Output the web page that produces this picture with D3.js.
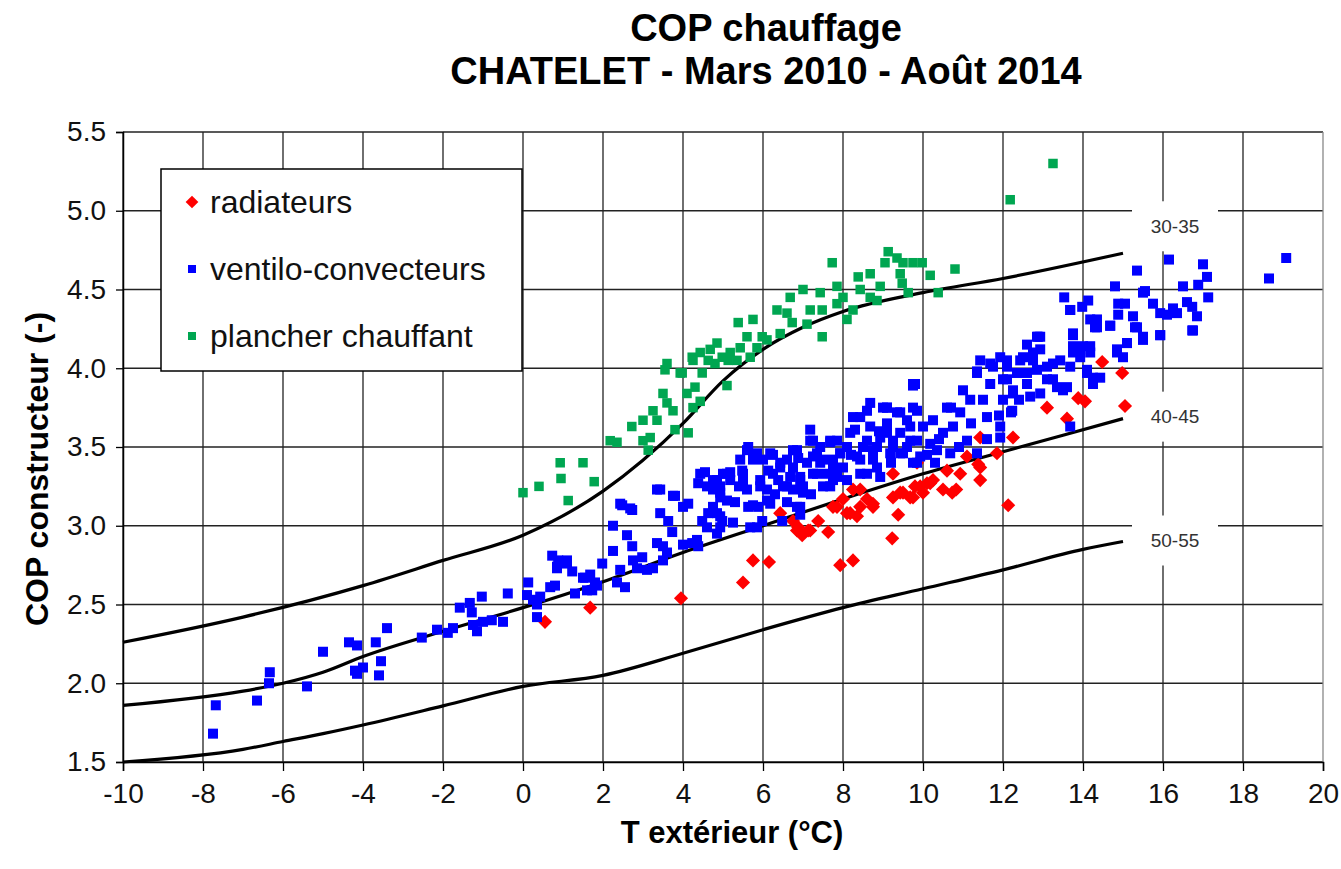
<!DOCTYPE html>
<html>
<head>
<meta charset="utf-8">
<script src="https://cdn.jsdelivr.net/npm/d3@7"></script>
<style>
  body { margin: 0; background: #fff; }
  text { font-family: "Liberation Sans", Arial, sans-serif; }
</style>
</head>
<body>
<script>
// ---- data ----
var xTicks = [-10, -8, -6, -4, -2, 0, 2, 4, 6, 8, 10, 12, 14, 16, 18, 20];
var yTicks = [1.5, 2.0, 2.5, 3.0, 3.5, 4.0, 4.5, 5.0, 5.5];

// courbes constructeur (régime d'eau)
var curveNames = ["30-35", "40-45", "50-55"];
var c3035 = [[-10,2.26],[-7,2.42],[-4,2.62],[-2,2.78],[0,2.94],[2,3.22],[4,3.65],[5,3.92],[6,4.12],[7,4.26],[8,4.36],[10,4.48],[12,4.57],[15,4.73]];
var c4045 = [[-10,1.86],[-7,1.95],[-6,2.0],[-5,2.07],[-4,2.17],[-2,2.33],[0,2.48],[2,2.645],[4,2.83],[6,3.0],[8,3.17],[10,3.33],[12,3.47],[15,3.68]];
var c5055 = [[-10,1.5],[-7,1.58],[-6,1.63],[-5,1.68],[-4,1.735],[-2,1.856],[0,1.98],[2,2.05],[4,2.19],[6,2.34],[8,2.48],[10,2.6],[12,2.72],[14,2.85],[15,2.9]];

var radiateurs = [[0.55,2.39],[1.68,2.48],[3.95,2.54],[5.5,2.64],[5.75,2.78],[6.15,2.77],[6.43,3.08],[6.88,2.99],[6.98,2.94],[7.13,2.97],[6.75,3.03],[7.38,3.03],[7.63,2.96],[7.75,3.12],[7.93,2.75],[8.25,2.78],[8.1,3.08],[8.25,3.23],[8.43,3.12],[8.35,3.06],[8.6,3.17],[8.75,3.12],[9.23,2.92],[9.38,3.07],[9.25,3.33],[9.5,3.21],[9.8,3.25],[9.85,3.4],[6.85,2.97],[7.18,2.97],[7.85,3.12],[8.0,3.17],[8.18,3.08],[8.43,3.23],[8.75,3.14],[9.25,3.18],[9.75,3.18],[9.93,3.25],[10.1,3.27],[10.25,3.29],[10.6,3.35],[10.83,3.23],[10.93,3.33],[11.1,3.44],[11.38,3.39],[11.43,3.29],[11.43,3.56],[11.85,3.46],[12.25,3.56],[12.13,3.13],[13.1,3.75],[13.6,3.68],[13.88,3.81],[14.05,3.79],[9.43,3.21],[9.68,3.18],[10.0,3.21],[10.18,3.27],[10.5,3.23],[10.73,3.21],[11.43,3.37],[14.48,4.04],[14.98,3.97],[15.05,3.76]];

var ventilo = [[-7.75,1.68],[-7.68,1.86],[-6.65,1.89],[-6.35,2.0],[-6.33,2.07],[-5.4,1.98],[-5.0,2.2],[-4.35,2.26],[-4.15,2.24],[-4.2,2.08],[-4.15,2.06],[-4.0,2.1],[-3.68,2.26],[-3.55,2.14],[-3.6,2.05],[-3.4,2.35],[-2.53,2.29],[-2.15,2.34],[-1.88,2.32],[-1.75,2.35],[-1.58,2.48],[-1.33,2.51],[-1.03,2.55],[-1.28,2.45],[-1.25,2.37],[-1.15,2.33],[-1.0,2.39],[-0.78,2.4],[-0.5,2.39],[-0.38,2.57],[0.13,2.64],[0.1,2.56],[0.25,2.53],[0.43,2.55],[0.35,2.5],[0.35,2.42],[0.68,2.61],[0.8,2.62],[0.85,2.74],[1.1,2.76],[1.23,2.71],[1.3,2.57],[1.5,2.67],[1.68,2.69],[1.73,2.59],[1.85,2.62],
  [0.73,2.81],[0.88,2.78],[1.1,2.78],[0.85,2.73],[1.55,2.67],[1.8,2.64],[1.6,2.59],[1.98,2.76],[2.25,3.0],[2.25,2.84],[2.43,2.72],[2.55,2.61],[2.35,2.64],[2.48,3.13],[2.73,3.1],[2.6,2.94],[2.73,2.87],[2.75,2.78],[2.98,2.8],[2.85,2.73],[3.1,2.72],[3.25,2.73],[3.35,2.89],[3.5,2.87],[3.6,2.83],[3.5,2.78],[3.43,3.23],[3.43,3.08],[3.63,3.03],[3.73,2.96],[3.8,3.19],[4.0,2.88],[4.23,2.89],[4.35,2.91],[4.38,2.87],[4.0,3.12],[4.13,3.14],[4.38,3.27],[4.55,3.34],[4.48,3.03],[4.6,2.99],[4.63,3.08],[4.75,3.12],[4.85,3.08],[4.93,2.99],[4.98,3.03],[4.85,2.95],[4.75,3.23],[4.85,3.29],[5.0,3.33],[5.18,3.34],[4.93,3.18],[5.1,3.16],[5.25,3.02],
  [5.43,3.42],[5.48,3.35],[5.5,3.29],[5.6,3.23],[5.63,3.5],[5.63,3.12],[5.75,3.13],[5.88,3.12],[5.68,2.99],[5.85,2.99],[5.98,3.03],[5.85,3.46],[6.0,3.42],[6.13,3.35],[5.93,3.29],[6.1,3.23],[6.18,3.14],[6.25,3.45],[6.43,3.4],[6.6,3.42],[6.75,3.48],[6.88,3.43],[6.38,3.29],[6.5,3.25],[6.68,3.31],[6.75,3.23],[6.93,3.29],[6.93,3.12],[7.0,3.25],[6.85,3.12],[6.93,3.07],[6.48,3.03],[7.18,3.61],[7.25,3.54],[7.35,3.46],[7.43,3.4],[7.6,3.33],[7.25,3.33],[7.68,3.53],[7.85,3.54],[7.93,3.46],[7.75,3.42],[8.0,3.37],[8.1,3.29],[7.75,3.29],[7.68,3.25],
  [8.3,3.61],[8.43,3.69],[8.68,3.78],[8.6,3.54],[8.85,3.5],[8.75,3.42],[8.43,3.42],[8.6,3.33],[8.93,3.31],[9.1,3.75],[9.1,3.59],[9.25,3.5],[9.43,3.46],[9.43,3.72],[9.68,3.63],[9.68,3.54],[9.85,3.73],[9.85,3.4],[9.75,3.89],[3.35,3.23],[3.75,3.19],[2.43,3.14],[2.68,3.11],[4.43,3.33],[4.75,3.29],[4.93,3.25],[5.1,3.33],[5.6,3.48],
  [4.6,3.25],[4.93,3.21],[5.18,3.29],[4.93,3.06],[5.5,3.33],[5.75,3.42],[5.93,3.25],[6.1,3.16],[6.18,3.46],[6.25,3.33],[6.43,3.37],[6.6,3.25],[6.75,3.37],[6.85,3.48],[6.93,3.31],[7.0,3.21],[7.18,3.54],[7.25,3.44],[7.35,3.33],[7.43,3.5],[7.5,3.42],[7.68,3.54],[7.75,3.37],[7.85,3.31],[7.93,3.46],[8.1,3.5],[8.18,3.59],[8.25,3.69],[8.35,3.44],[8.43,3.33],[8.6,3.73],[8.68,3.63],[8.75,3.48],[8.85,3.37],[8.93,3.56],[9.0,3.75],[9.1,3.65],[9.18,3.46],[9.25,3.54],[9.35,3.72],[9.43,3.59],[9.5,3.46],[9.6,3.67],[9.75,3.75],[9.75,3.9],[9.85,3.54],[9.93,3.44],[10.0,3.63],[10.18,3.52],[10.25,3.67],[10.35,3.48],[10.5,3.59],[10.6,3.75],[10.68,3.46],[10.75,3.63],[10.93,3.72],[11.0,3.86],[11.1,3.54],[11.18,3.8],[11.35,3.97],[11.43,4.05],[11.5,3.8],[11.6,3.69],[11.68,3.9],[11.75,4.01],[11.93,3.63],[12.0,3.8],[12.0,3.93],[12.1,4.05],[12.2,3.72],[12.25,3.84],[12.35,3.97],[12.5,4.07],[12.6,3.9],[12.75,4.05],[12.85,4.2],[12.93,3.84],[13.1,4.01],[13.25,3.93],[13.43,4.05],[13.6,3.88],[13.68,4.37],[13.75,4.22],[13.93,4.12],[14.1,3.97],[14.25,3.9],[14.35,4.31],[13.68,3.63],
  [9.1,3.75],[9.8,3.9],[9.75,3.4],[11.35,3.46],[11.93,3.56],[12.23,3.73],[11.35,3.98],[11.68,4.03],[11.93,4.07],[12.1,4.01],[12.1,3.93],[12.25,3.86],[12.43,4.05],[12.6,3.97],[12.68,3.82],[12.75,4.1],[12.93,4.12],[12.85,3.99],[13.1,3.93],[13.25,4.03],[13.35,3.88],[13.5,3.86],[13.68,4.01],[13.75,4.14],[13.93,4.07],[14.1,3.99],[14.25,3.94],[14.43,3.94],[14.18,4.14],[14.35,4.26],[14.68,4.27],[14.85,4.1],[15.0,4.07],[15.1,4.16],[15.3,4.26],[15.5,4.18],[15.93,4.21],[16.73,4.24],[12.88,4.2],[13.75,4.21],
  [15.35,4.62],[16.15,4.69],[17.0,4.66],[17.1,4.58],[16.88,4.53],[16.5,4.52],[14.8,4.52],[15.55,4.49],[13.53,4.45],[13.68,4.37],[14.13,4.43],[13.98,4.39],[14.88,4.41],[15.05,4.41],[14.18,4.31],[14.3,4.26],[13.75,4.22],[14.68,4.27],[14.88,4.34],[15.25,4.33],[15.35,4.26],[15.5,4.2],[15.5,4.48],[15.75,4.41],[15.93,4.35],[16.1,4.34],[16.25,4.38],[16.35,4.35],[16.6,4.42],[16.73,4.39],[16.85,4.33],[17.13,4.45],[16.75,4.24],[15.93,4.21],[13.75,4.1],[14.0,4.14],[14.18,4.1],[14.85,4.12],[15.1,4.16],[18.65,4.57],[19.08,4.7],[12.93,4.2],
  [8.5,3.5],[8.9,3.6],[9.2,3.4],[9.6,3.5],[10.1,3.45],[10.4,3.55],[10.3,3.4],[10.9,3.5],[10.7,3.75],[11.2,3.65],[8.2,3.45],[7.1,3.4],[6.3,3.2],[5.3,3.15],[5.4,3.25],[6.6,3.15],[7.2,3.2],[7.5,3.25],[11.6,3.55],[11.9,3.7],[12.4,3.8],[12.6,4.15]];

var plancher = [[0,3.21],[0.4,3.25],[0.93,3.4],[0.95,3.3],[1.5,3.4],[1.78,3.28],[1.13,3.16],[2.18,3.54],[2.35,3.53],[2.72,3.63],[3.0,3.67],[3.0,3.54],[3.18,3.56],[3.13,3.48],[3.25,3.73],[3.35,3.67],[3.5,3.84],[3.6,3.78],[3.75,3.73],[3.8,3.61],[4.13,3.59],[3.6,4.03],[3.98,3.97],[4.1,3.84],[4.25,3.75],[4.3,3.88],[4.43,3.79],[4.23,4.07],[4.43,4.1],[4.48,3.97],[4.68,4.12],[4.85,4.16],[4.8,4.03],[5.1,3.89],[5.13,4.05],[5.38,4.29],[5.43,4.13],[5.6,4.2],[5.75,4.31],[5.68,4.07],[5.85,4.13],[3.55,3.99],[3.93,3.97],[4.25,4.05],[4.63,4.05],[4.98,4.07],[5.18,4.1],[5.35,4.05],[5.98,4.2],[6.1,4.18],[6.35,4.37],[6.43,4.22],[6.6,4.35],[6.68,4.45],[6.73,4.29],[7.0,4.5],[7.1,4.28],[7.18,4.37],[7.43,4.48],[7.48,4.2],[7.48,4.37],[7.73,4.67],[7.85,4.52],[7.85,4.41],[8.0,4.45],[8.1,4.31],[8.25,4.37],[8.38,4.58],[8.43,4.5],[8.68,4.6],[8.68,4.45],[8.93,4.52],[8.85,4.43],[9.05,4.67],[9.13,4.74],[9.35,4.7],[9.43,4.6],[9.5,4.67],[9.48,4.54],[9.63,4.48],[9.75,4.67],[9.98,4.67],[10.18,4.59],[10.38,4.48],[10.8,4.63],[12.18,5.07],[13.25,5.3]];

var legendItems = ["radiateurs", "ventilo-convecteurs", "plancher chauffant"];
var colors = {red: "#ff0000", blue: "#0000ff", green: "#00a651"};

// ---- layout ----
var W = 1341, H = 869;
var margin = {top: 132, right: 18, bottom: 107, left: 123};
var width = W - margin.left - margin.right;
var height = H - margin.top - margin.bottom;

var x = d3.scaleLinear().domain([-10, 20]).range([0, width]);
var y = d3.scaleLinear().domain([1.5, 5.5]).range([height, 0]);

var svg = d3.select("body").append("svg")
    .attr("width", W)
    .attr("height", H)
    .style("background", "#fff");

var g = svg.append("g")
    .attr("transform", "translate(" + margin.left + "," + margin.top + ")");

// grid
g.append("g").selectAll("line").data(yTicks).enter().append("line")
    .attr("x1", 0).attr("x2", width)
    .attr("y1", function(d) { return y(d); }).attr("y2", function(d) { return y(d); })
    .attr("stroke", "#222").attr("stroke-width", 1.3);
g.append("g").selectAll("line").data(xTicks).enter().append("line")
    .attr("y1", 0).attr("y2", height)
    .attr("x1", function(d) { return x(d); }).attr("x2", function(d) { return x(d); })
    .attr("stroke", function(d) { return d === 20 ? "#888" : "#222"; })
    .attr("stroke-width", 1.3);

// axes
var xAxis = d3.axisBottom(x).tickValues(xTicks).tickSize(9).tickPadding(12).tickFormat(d3.format("d"));
var yAxis = d3.axisLeft(y).tickValues(yTicks).tickSize(7).tickPadding(10).tickFormat(d3.format(".1f"));

g.append("g")
    .attr("transform", "translate(0," + height + ")")
    .call(xAxis)
    .call(function(s) {
      s.select(".domain").attr("stroke", "#000").attr("stroke-width", 1.5);
      s.selectAll(".tick line").attr("stroke", "#000").attr("stroke-width", 1.3);
      s.selectAll("text").attr("font-size", 28).attr("fill", "#111")
        .attr("font-family", "Liberation Sans, Arial, sans-serif")
        .text(function(d) { return d < 0 ? "-" + Math.abs(d) : d; });
    });

g.append("g")
    .call(yAxis)
    .call(function(s) {
      s.select(".domain").attr("stroke", "#000").attr("stroke-width", 1.5);
      s.selectAll(".tick line").attr("stroke", "#000").attr("stroke-width", 1.3);
      s.selectAll("text").attr("font-size", 28).attr("fill", "#111")
        .attr("font-family", "Liberation Sans, Arial, sans-serif");
    });

// courbes
var line = d3.line()
    .x(function(d) { return x(d[0]); })
    .y(function(d) { return y(d[1]); })
    .curve(d3.curveMonotoneX);

var curves = [c3035, c4045, c5055];
g.append("g").selectAll("path").data(curves).enter().append("path")
    .attr("d", line)
    .attr("fill", "none")
    .attr("stroke", "#000")
    .attr("stroke-width", 3.2);

// étiquettes des courbes
var labelDy = [-27, -2, -1];
curves.forEach(function(c, i) {
  var last = c[c.length - 1];
  var cx = x(last[0]) + 52, cy = y(last[1]) + labelDy[i];
  g.append("rect")
      .attr("x", cx - 43).attr("y", cy - 25)
      .attr("width", 86).attr("height", 50)
      .attr("fill", "#fff");
  g.append("text")
      .attr("x", cx).attr("y", cy)
      .attr("dy", "0.35em")
      .attr("text-anchor", "middle")
      .attr("font-family", "Lato, 'Open Sans', sans-serif")
      .attr("font-size", 19)
      .attr("fill", "#333")
      .text(curveNames[i]);
});

// points
function diamond(sel, data, size, color) {
  sel.selectAll("rect").data(data).enter().append("rect")
      .attr("x", -size / 2).attr("y", -size / 2)
      .attr("width", size).attr("height", size)
      .attr("transform", function(d) { return "translate(" + x(d[0]) + "," + y(d[1]) + ") rotate(45)"; })
      .attr("fill", color);
}
function squares(sel, data, size, color) {
  sel.selectAll("rect").data(data).enter().append("rect")
      .attr("x", function(d) { return x(d[0]) - size / 2; })
      .attr("y", function(d) { return y(d[1]) - size / 2; })
      .attr("width", size).attr("height", size)
      .attr("fill", color);
}

diamond(g.append("g"), radiateurs, 10, colors.red);
squares(g.append("g"), ventilo, 10, colors.blue);
squares(g.append("g"), plancher, 9.5, colors.green);

// légende
var leg = svg.append("g");
leg.append("rect")
    .attr("x", 161).attr("y", 169)
    .attr("width", 361).attr("height", 202)
    .attr("fill", "#fff")
    .attr("stroke", "#000")
    .attr("stroke-width", 1.5);

var legY = [202, 269, 336];
leg.append("rect")
    .attr("x", -4.5).attr("y", -4.5).attr("width", 9).attr("height", 9)
    .attr("transform", "translate(192," + legY[0] + ") rotate(45)")
    .attr("fill", colors.red);
leg.append("rect")
    .attr("x", 188).attr("y", legY[1] - 4).attr("width", 8).attr("height", 8)
    .attr("fill", colors.blue);
leg.append("rect")
    .attr("x", 188).attr("y", legY[2] - 4).attr("width", 8).attr("height", 8)
    .attr("fill", colors.green);

leg.selectAll("text").data(legendItems).enter().append("text")
    .attr("x", 210)
    .attr("y", function(d, i) { return legY[i]; })
    .attr("dy", "0.35em")
    .attr("font-size", 32)
    .attr("fill", "#111")
    .text(function(d) { return d; });

// titres
svg.append("text")
    .attr("x", 766).attr("y", 41)
    .attr("text-anchor", "middle")
    .attr("font-weight", "bold").attr("font-size", 38)
    .text("COP chauffage");
svg.append("text")
    .attr("x", 766).attr("y", 84)
    .attr("text-anchor", "middle")
    .attr("font-weight", "bold").attr("font-size", 38)
    .text("CHATELET - Mars 2010 - Août 2014");

svg.append("text")
    .attr("x", 732).attr("y", 843)
    .attr("text-anchor", "middle")
    .attr("font-weight", "bold").attr("font-size", 31)
    .text("T extérieur (°C)");

svg.append("text")
    .attr("transform", "translate(48,469) rotate(-90)")
    .attr("text-anchor", "middle")
    .attr("font-weight", "bold").attr("font-size", 32)
    .text("COP constructeur (-)");
</script>
</body>
</html>
